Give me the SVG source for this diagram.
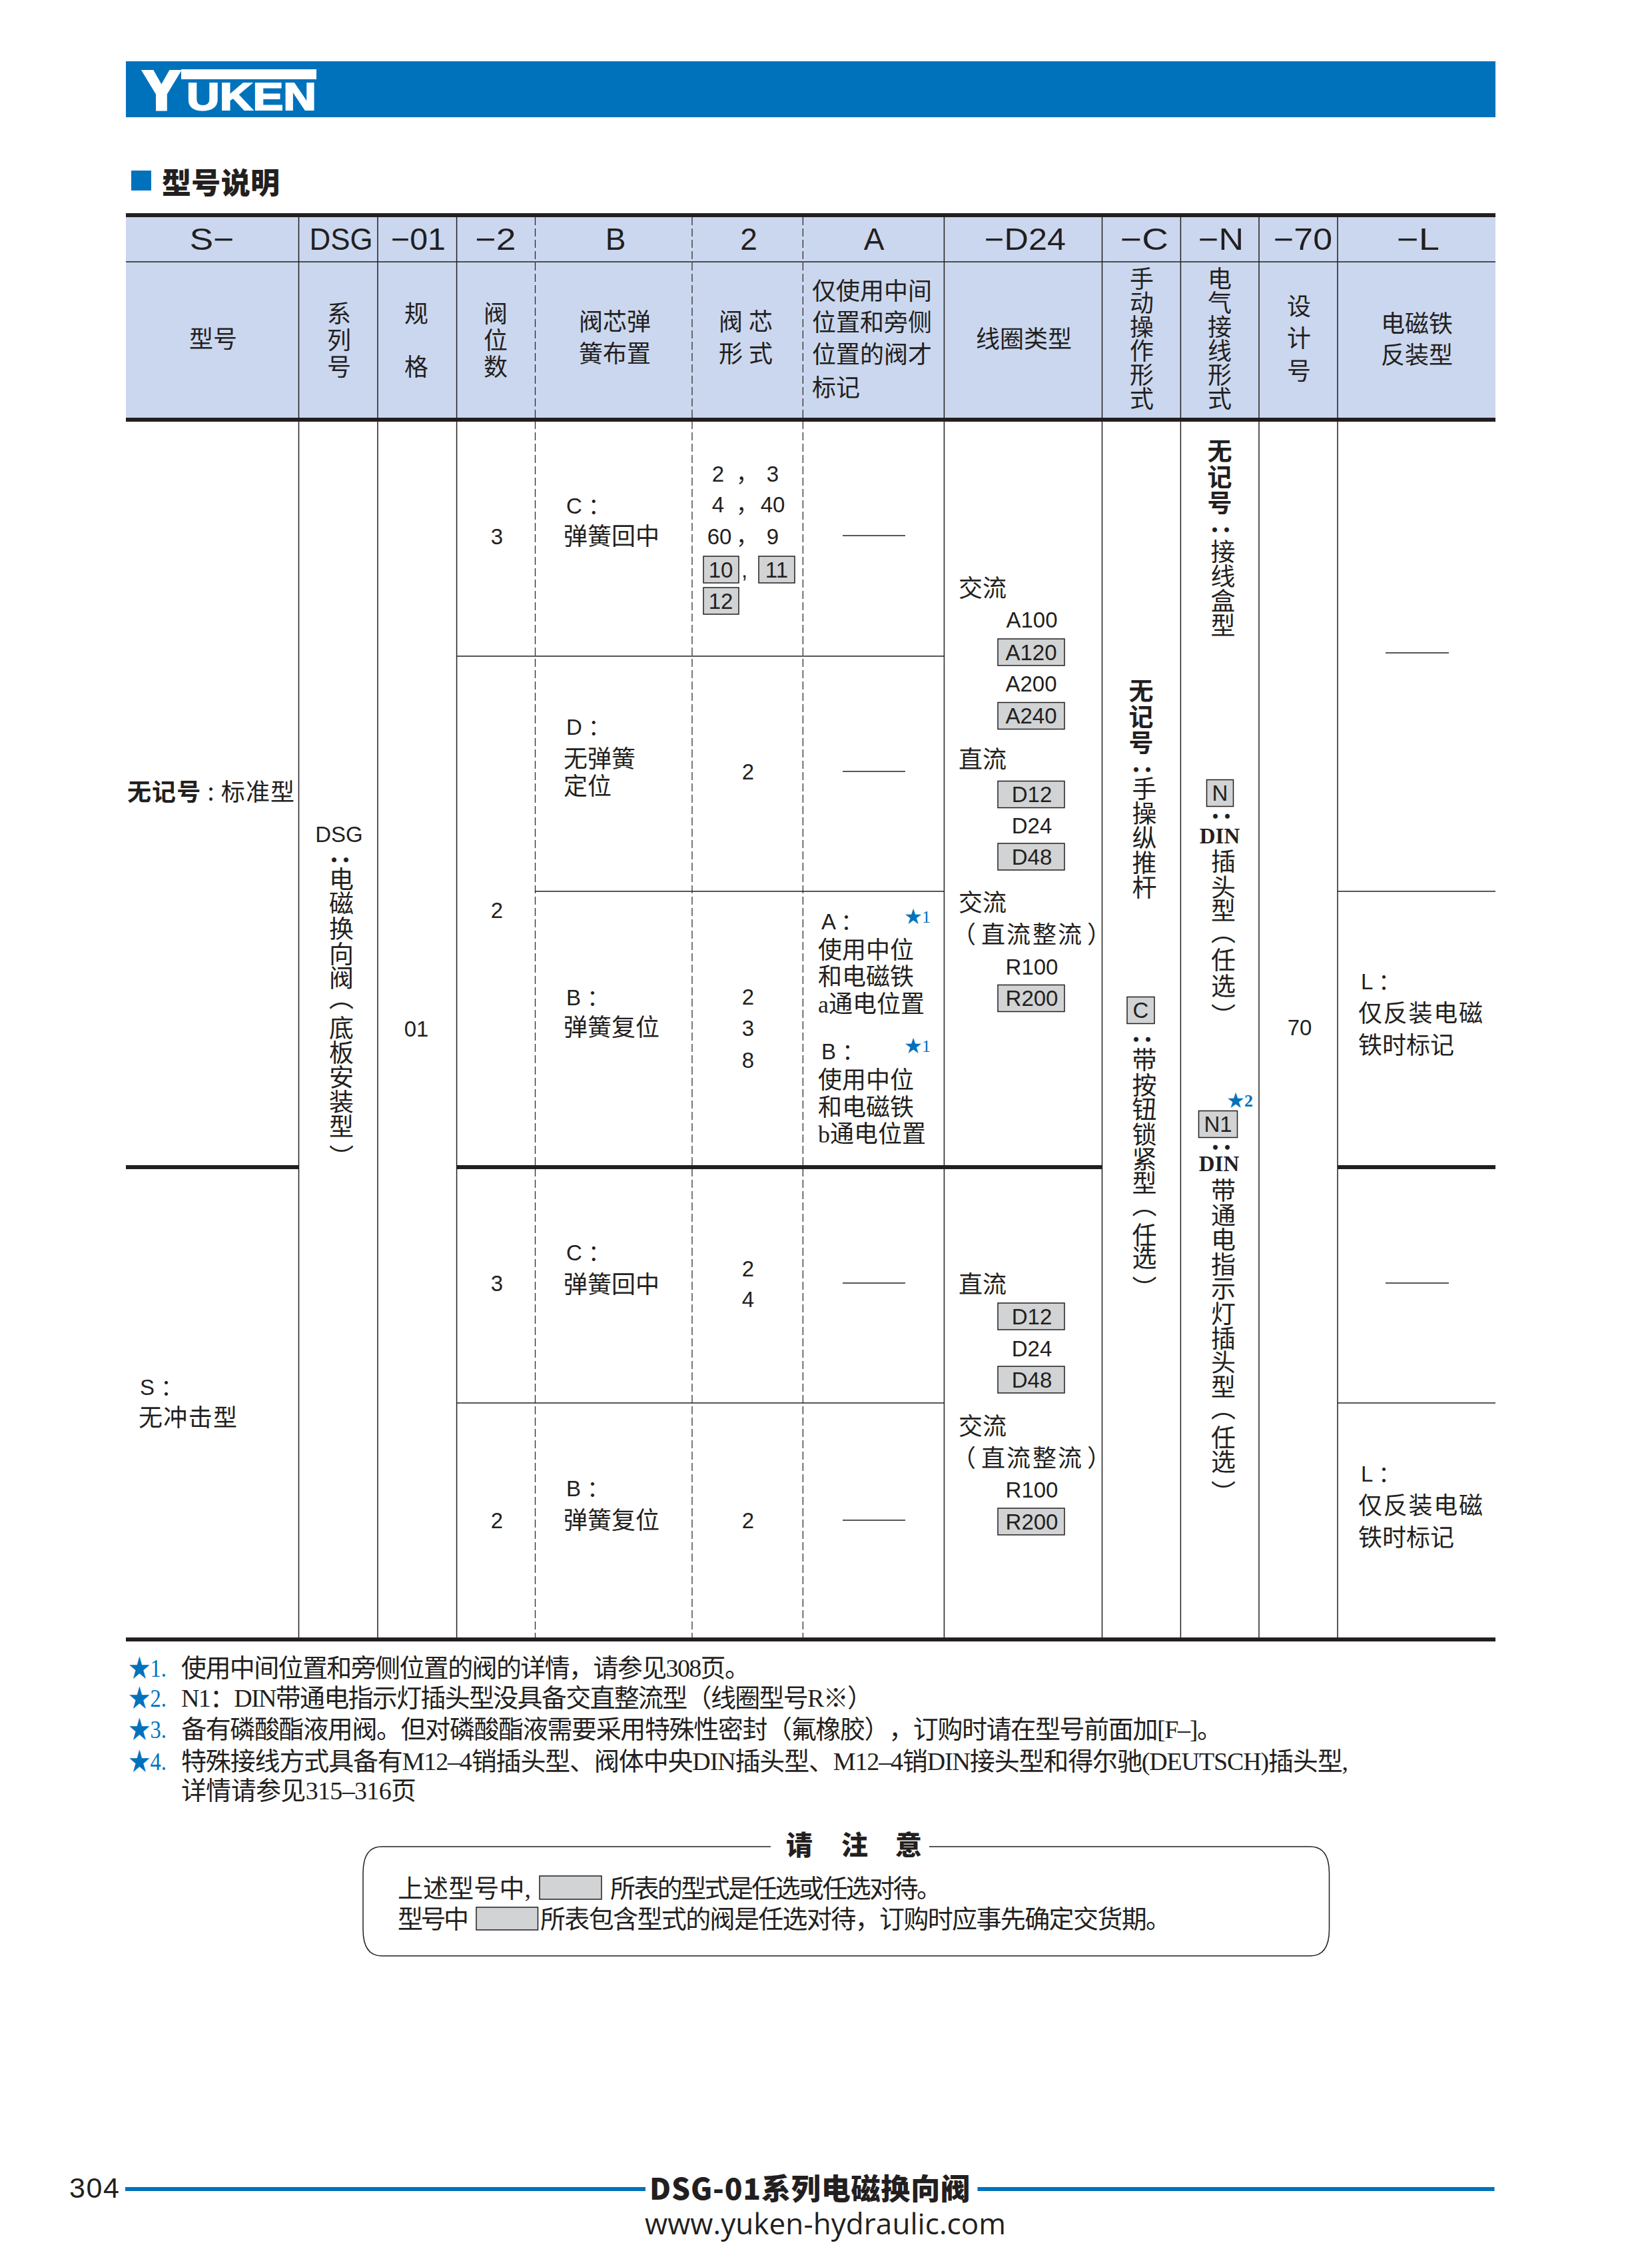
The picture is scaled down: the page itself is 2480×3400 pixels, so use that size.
<svg xmlns="http://www.w3.org/2000/svg" width="2480" height="3400" viewBox="0 0 2480 3400">
<style>
text{fill:#231f20;font-family:"Noto Sans CJK SC","Liberation Sans",sans-serif;text-spacing-trim:space-all}
.h{font:46px "Liberation Sans","Noto Sans CJK SC",sans-serif;text-anchor:middle}
.c{font-size:36px}
.m{text-anchor:middle}
.l{font:33px "Liberation Sans","Noto Sans CJK SC",sans-serif}
.lm{font:33px "Liberation Sans","Noto Sans CJK SC",sans-serif;text-anchor:middle}
.s{font:36px "Liberation Serif","Noto Sans CJK SC",serif}
.din{font:bold 33px "Liberation Serif",serif;text-anchor:middle}
.v{font-size:36px;writing-mode:vertical-rl}
.w{font-size:37px;writing-mode:vertical-rl}
.vb{font-size:37px;font-weight:700;writing-mode:vertical-rl;letter-spacing:2px}
.cl{font-size:37px;font-weight:700}
.n{font:38px "Liberation Serif","Noto Sans CJK SC",serif}
.st{font:38px "Liberation Serif","Noto Sans CJK SC",serif;fill:#0072bc}
.st2{font:26px "Liberation Serif","Noto Sans CJK SC",serif;fill:#0072bc}
.box{fill:#d1d3d4;stroke:#231f20;stroke-width:1.5}
.t{stroke:#231f20;stroke-width:1.5;fill:none}
.d{stroke:#231f20;stroke-width:1.2;stroke-dasharray:12 5;fill:none}
.k{stroke:#231f20;stroke-width:6;fill:none}
.blue{fill:#0072bc}
</style>
<g id="banner">
<rect class="blue" x="189" y="92" width="2056" height="84"/>
<rect x="272" y="104" width="203" height="15" fill="#fff"/>
<text x="215" y="164" style="font:bold 82px 'Liberation Sans',sans-serif;fill:#fff;stroke:#fff;stroke-width:5">Y</text>
<text x="280" y="165" textLength="195" lengthAdjust="spacingAndGlyphs" style="font:bold 57px 'Liberation Sans',sans-serif;fill:#fff;stroke:#fff;stroke-width:2">UKEN</text>
</g>
<g id="section-title">
<rect class="blue" x="197" y="256" width="30" height="30"/>
<text x="243" y="291" textLength="177" style="font-size:44px;font-weight:900">型号说明</text>
</g>
<g id="table-header">
<rect x="189" y="326" width="2056" height="302" fill="#cbd7ee"/>
<text class="h" x="318" y="375" textLength="67" lengthAdjust="spacingAndGlyphs">S−</text>
<text class="h" x="512" y="375" textLength="95" lengthAdjust="spacingAndGlyphs">DSG</text>
<text class="h" x="628" y="375" textLength="82" lengthAdjust="spacingAndGlyphs">−01</text>
<text class="h" x="744" y="375" textLength="61" lengthAdjust="spacingAndGlyphs">−2</text>
<text class="h" x="924" y="375">B</text>
<text class="h" x="1124" y="375">2</text>
<text class="h" x="1312" y="375">A</text>
<text class="h" x="1539" y="375" textLength="122" lengthAdjust="spacingAndGlyphs">−D24</text>
<text class="h" x="1718" y="375" textLength="72" lengthAdjust="spacingAndGlyphs">−C</text>
<text class="h" x="1833" y="375" textLength="68" lengthAdjust="spacingAndGlyphs">−N</text>
<text class="h" x="1956" y="375" textLength="88" lengthAdjust="spacingAndGlyphs">−70</text>
<text class="h" x="2129" y="375" textLength="64" lengthAdjust="spacingAndGlyphs">−L</text>
<text class="c m" x="320" y="522">型号</text>
<text class="v" x="509" y="452" style="letter-spacing:4px">系列号</text>
<text class="v" x="625" y="452" style="letter-spacing:44px">规格</text>
<text class="v" x="744" y="452" style="letter-spacing:4px">阀位数</text>
<text class="c m" x="923" y="496">阀芯弹</text><text class="c m" x="923" y="544">簧布置</text>
<text class="c m" x="1097" y="496">阀</text><text class="c m" x="1142" y="496">芯</text>
<text class="c m" x="1097" y="544">形</text><text class="c m" x="1142" y="544">式</text>
<text class="c" x="1219" y="450">仅使用中间</text>
<text class="c" x="1219" y="497">位置和旁侧</text>
<text class="c" x="1219" y="545">位置的阀才</text>
<text class="c" x="1219" y="595">标记</text>
<text class="c m" x="1537" y="522">线圈类型</text>
<text class="v" x="1714" y="400">手动操作形式</text>
<text class="v" x="1831" y="400">电气接线形式</text>
<text class="v" x="1950" y="441" style="letter-spacing:12.500px">设计号</text>
<text class="c m" x="2127" y="499">电磁铁</text><text class="c m" x="2127" y="546">反装型</text>
</g>
<g id="rules">
<path class="k" d="M189 323H2245M189 630H2245M189 2461H2245M189 1752H448.500M685.600 1752H1654.500M2008 1752H2245"/>
<path class="t" d="M189 393H2245M685.600 985H1417.400M803.500 1338H1417.400M2008 1338H2245M685.600 2106H1417.400M2008 2106H2245"/>
<path class="t" d="M448.500 326V2458M567 326V2458M685.600 326V2458M1417.400 326V2458M1654.500 326V2458M1772.400 326V2458M1890 326V2458M2008 326V2458"/>
<path class="d" d="M803.500 326V2458M1039 326V2458M1205.400 326V2458"/>
<path class="t" d="M1265 804H1359M1265 1158H1359M1265 1926H1359M1265 2282H1359M2080 980H2175M2080 1926H2175"/>
</g>
<g id="col-type">
<text class="c" x="191" y="1202" textLength="251"><tspan font-weight="700">无记号</tspan> : 标准型</text>
<text class="l" x="210" y="2094">S ：</text>
<text class="c" x="208" y="2141" textLength="148">无冲击型</text>
</g>
<g id="col-series">
<text class="lm" x="509" y="1264">DSG</text>
<text class="cl" transform="translate(498 1281.500) rotate(90)">：</text>
<text class="w" x="512.500" y="1301 1337.500 1375.500 1413.500 1449.500 1479 1524.500 1561.500 1598.500 1635.500 1672.500 1718">电磁换向阀（底板安装型）</text>
<text class="lm" x="625" y="1556">01</text>
</g>
<g id="col-positions">
<text class="lm" x="746" y="817">3</text>
<text class="lm" x="746" y="1378">2</text>
<text class="lm" x="746" y="1938">3</text>
<text class="lm" x="746" y="2294">2</text>
</g>
<g id="col-spring">
<text class="l" x="850" y="771">C ：</text><text class="c" x="846" y="818">弹簧回中</text>
<text class="l" x="850" y="1103">D ：</text>
<text class="c"><tspan x="846" y="1152">无弹簧</tspan><tspan x="846" y="1193">定位</tspan></text>
<text class="l" x="850" y="1509">B ：</text><text class="c" x="846" y="1555">弹簧复位</text>
<text class="l" x="850" y="1892">C ：</text><text class="c" x="846" y="1941">弹簧回中</text>
<text class="l" x="850" y="2246">B ：</text><text class="c" x="846" y="2295">弹簧复位</text>
</g>
<g id="col-spool">
<text class="lm" x="1078" y="723">2</text><text class="l" x="1105" y="723">，</text><text class="lm" x="1160" y="723">3</text>
<text class="lm" x="1078" y="769">4</text><text class="l" x="1105" y="769">，</text><text class="lm" x="1160" y="769">40</text>
<text class="lm" x="1080" y="817">60</text><text class="l" x="1105" y="817">，</text><text class="lm" x="1160" y="817">9</text>
<rect class="box" x="1056" y="835" width="53" height="40"/><text class="lm" x="1082" y="867">10</text>
<text class="l" x="1113" y="867">,</text>
<rect class="box" x="1139" y="835" width="54" height="40"/><text class="lm" x="1166" y="867">11</text>
<rect class="box" x="1056" y="882" width="53" height="40"/><text class="lm" x="1082" y="914">12</text>
<text class="lm" x="1123" y="1170">2</text>
<text class="lm" x="1123" y="1508">2</text><text class="lm" x="1123" y="1555">3</text><text class="lm" x="1123" y="1603">8</text>
<text class="lm" x="1123" y="1916">2</text><text class="lm" x="1123" y="1962">4</text>
<text class="lm" x="1123" y="2294">2</text>
</g>
<g id="col-a">
<text class="l" x="1233" y="1395">A ：</text><text class="st2" x="1358" y="1385">★1</text>
<text class="c"><tspan x="1228" y="1439">使用中位</tspan><tspan x="1228" y="1479">和电磁铁</tspan></text>
<text class="s" x="1228" y="1520">a通电位置</text>
<text class="l" x="1233" y="1590">B ：</text><text class="st2" x="1358" y="1579">★1</text>
<text class="c"><tspan x="1228" y="1634">使用中位</tspan><tspan x="1228" y="1675">和电磁铁</tspan></text>
<text class="s" x="1228" y="1715">b通电位置</text>
</g>
<g id="col-coil">
<text class="c" x="1439" y="896">交流</text>
<text class="lm" x="1549" y="942">A100</text>
<rect class="box" x="1498" y="959" width="100" height="40"/><text class="lm" x="1548" y="991">A120</text>
<text class="lm" x="1548" y="1038">A200</text>
<rect class="box" x="1498" y="1054.500" width="100" height="40"/><text class="lm" x="1548" y="1086">A240</text>
<text class="c" x="1439" y="1153">直流</text>
<rect class="box" x="1498" y="1172.500" width="100" height="40"/><text class="lm" x="1549" y="1204">D12</text>
<text class="lm" x="1549" y="1251">D24</text>
<rect class="box" x="1498" y="1266" width="100" height="40"/><text class="lm" x="1549" y="1298">D48</text>
<text class="c" x="1439" y="1368">交流</text>
<text class="c" x="1429 1473 1511 1550 1588 1632" y="1416">（直流整流）</text>
<text class="lm" x="1549" y="1463">R100</text>
<rect class="box" x="1498" y="1478.500" width="100" height="40"/><text class="lm" x="1549" y="1510">R200</text>
<text class="c" x="1439" y="1941">直流</text>
<rect class="box" x="1498" y="1956" width="100" height="40"/><text class="lm" x="1549" y="1988">D12</text>
<text class="lm" x="1549" y="2036">D24</text>
<rect class="box" x="1498" y="2051" width="100" height="40"/><text class="lm" x="1549" y="2083">D48</text>
<text class="c" x="1439" y="2154">交流</text>
<text class="c" x="1429 1473 1511 1550 1588 1632" y="2202">（直流整流）</text>
<text class="lm" x="1549" y="2248">R100</text>
<rect class="box" x="1498" y="2264" width="100" height="40"/><text class="lm" x="1549" y="2296">R200</text>
</g>
<g id="col-manual">
<text class="vb" x="1713" y="1018">无记号</text>
<text class="cl" transform="translate(1702 1146) rotate(90)">：</text>
<text class="w" x="1718" y="1165.500">手操纵推杆</text>
<rect class="box" x="1692" y="1496.500" width="41" height="40"/><text class="lm" x="1712.500" y="1528">C</text>
<text class="cl" transform="translate(1702 1551) rotate(90)">：</text>
<text class="w" x="1718" y="1572.500 1610 1646.500 1684 1721.500 1757.500 1790 1835.500 1869.500 1915">带按钮锁紧型（任选）</text>
</g>
<g id="col-electrical">
<text class="vb" x="1831" y="658">无记号</text>
<text class="cl" transform="translate(1820 786) rotate(90)">：</text>
<text class="w" x="1836" y="809.500">接线盒型</text>
<rect class="box" x="1811.500" y="1170.500" width="40" height="40"/><text class="lm" x="1831.500" y="1202">N</text>
<text class="cl" transform="translate(1821 1216) rotate(90)">：</text>
<text class="din" x="1831" y="1266">DIN</text>
<text class="w" x="1836.500" y="1274.500 1313.500 1348.500 1380 1422.500 1461.500 1506">插头型（任选）</text>
<text class="st2" x="1842" y="1661" style="font-weight:700">★2</text>
<rect class="box" x="1799.500" y="1667.500" width="58" height="40"/><text class="lm" x="1828.500" y="1699">N1</text>
<text class="cl" transform="translate(1821 1713) rotate(90)">：</text>
<text class="din" x="1830" y="1758">DIN</text>
<text class="w" x="1836.500" y="1768.500 1805.500 1842.500 1879 1915.500 1953 1990.500 2026.500 2063.500 2095 2139.500 2175.500 2222">带通电指示灯插头型（任选）</text>
</g>
<g id="col-design">
<text class="lm" x="1951" y="1554">70</text>
</g>
<g id="col-reverse">
<text class="l" x="2043" y="1485">L ：</text>
<text class="c" x="2039" y="1534" textLength="187">仅反装电磁</text>
<text class="c" x="2039" y="1582">铁时标记</text>
<text class="l" x="2043" y="2224">L ：</text>
<text class="c" x="2039" y="2273" textLength="187">仅反装电磁</text>
<text class="c" x="2039" y="2321">铁时标记</text>
</g>
<g id="notes">
<text class="st" x="193" y="2517" textLength="57" lengthAdjust="spacingAndGlyphs">★1.</text>
<text class="n" x="272" y="2517" textLength="854">使用中间位置和旁侧位置的阀的详情，请参见308页。</text>
<text class="st" x="193" y="2562" textLength="57" lengthAdjust="spacingAndGlyphs">★2.</text>
<text class="n" x="272" y="2562" textLength="1038">N1：DIN带通电指示灯插头型没具备交直整流型（线圈型号R※）</text>
<text class="st" x="193" y="2609" textLength="57" lengthAdjust="spacingAndGlyphs">★3.</text>
<text class="n" x="272" y="2609" textLength="1563">备有磷酸酯液用阀。但对磷酸酯液需要采用特殊性密封（氟橡胶），订购时请在型号前面加[F–]。</text>
<text class="st" x="193" y="2657" textLength="57" lengthAdjust="spacingAndGlyphs">★4.</text>
<text class="n" x="272" y="2657" textLength="1752">特殊接线方式具备有M12–4销插头型、阀体中央DIN插头型、M12–4销DIN接头型和得尔驰(DEUTSCH)插头型,</text>
<text class="n" x="272" y="2701" textLength="353">详情请参见315–316页</text>
</g>
<g id="notice">
<path class="t" d="M1157 2772H573Q545 2772 545 2812V2896Q545 2936 573 2936H1967Q1995.500 2936 1995.500 2896V2812Q1995.500 2772 1967 2772H1395"/>
<text x="1200" y="2784" class="m" style="font-size:40px;font-weight:900">请</text>
<text x="1283" y="2784" class="m" style="font-size:40px;font-weight:900">注</text>
<text x="1364" y="2784" class="m" style="font-size:40px;font-weight:900">意</text>
<text class="n" x="597" y="2848" textLength="200">上述型号中,</text>
<rect class="box" x="810" y="2816" width="93" height="35"/>
<text class="n" x="916" y="2848" textLength="498">所表的型式是任选或任选对待。</text>
<text class="n" x="597" y="2894" textLength="107">型号中</text>
<rect class="box" x="715" y="2863" width="92.500" height="34"/>
<text class="n" x="811" y="2894" textLength="947">所表包含型式的阀是任选对待，订购时应事先确定交货期。</text>
</g>
<g id="footer">
<text x="104" y="3299" textLength="75" style="font:43px 'Liberation Sans',sans-serif">304</text>
<rect class="blue" x="188" y="3283" width="781" height="6"/>
<rect class="blue" x="1467.500" y="3283" width="776" height="6"/>
<text x="975" y="3302" textLength="481" style="font-size:44px;font-weight:900">DSG-01系列电磁换向阀</text>
<text x="968" y="3354" textLength="542" style="font:44px 'Open Sans',sans-serif">www.yuken-hydraulic.com</text>
</g>
</svg>
